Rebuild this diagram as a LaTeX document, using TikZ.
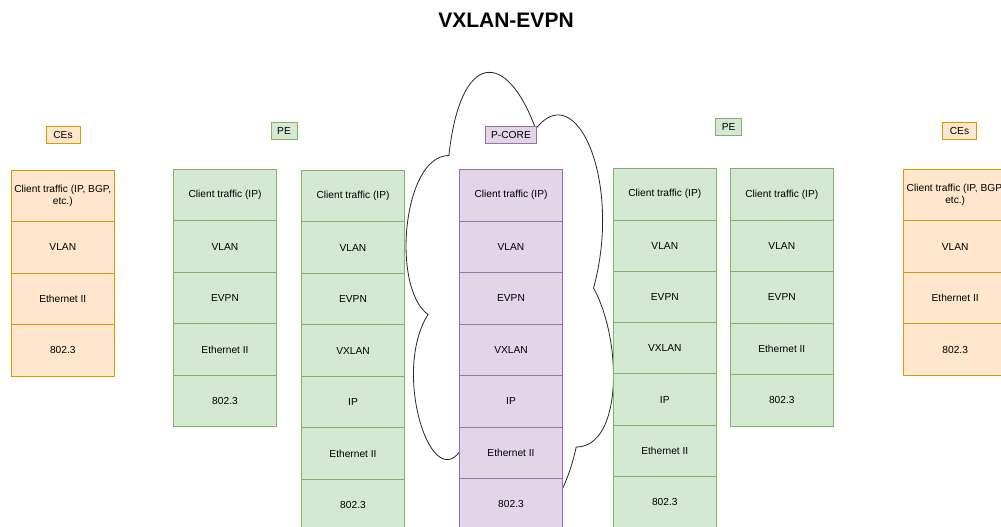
\documentclass[tikz,border=0pt]{standalone}
\usepackage{fontspec}
\setmainfont{Liberation Sans}
\begin{document}
\begin{tikzpicture}[x=1pt,y=-1pt,
  cellfont/.style={font=\fontsize{10.2}{12.4}\selectfont},
  cell/.style={draw, cellfont, minimum width=103pt, minimum height=51.5pt,
    inner sep=0pt, align=center, line width=0.8pt},
  ce/.style={cell, fill=ceFill, draw=ceLine},
  pe/.style={cell, fill=peFill, draw=peLine},
  core/.style={cell, fill=coreFill, draw=coreLine},
  tag/.style={draw, cellfont, inner sep=0pt, minimum height=17pt, line width=0.8pt},
  cetag/.style={tag, fill=ceFill, draw=ceLine},
  petag/.style={tag, fill=peFill, draw=peLine},
  coretag/.style={tag, fill=coreFill, draw=coreLine},
  cloudline/.style={draw=black!85, fill=white, line width=0.8pt}]

\definecolor{ceFill}{HTML}{FFE6CC}
\definecolor{ceLine}{HTML}{D79B00}
\definecolor{peFill}{HTML}{D5E8D4}
\definecolor{peLine}{HTML}{82B366}
\definecolor{coreFill}{HTML}{E1D5E7}
\definecolor{coreLine}{HTML}{9673A6}

\useasboundingbox (0,0) rectangle (1001,527);
\fill[white] (0,0) rectangle (1001,527);
\clip (0,0) rectangle (1001,527);

% title
\node[font=\bfseries\fontsize{21}{24}\selectfont] (title) at (506,20) {VXLAN-EVPN};

% provider core cloud
\begin{scope}[shift={(391pt,-23pt)}, x=231.5pt, y=-530pt]
  \path[cloudline] (0.25,0.25)
    .. controls (0.05,0.25) and (0,0.5) .. (0.16,0.55)
    .. controls (0,0.66) and (0.18,0.9) .. (0.31,0.8)
    .. controls (0.4,1) and (0.7,1) .. (0.8,0.8)
    .. controls (1,0.8) and (1,0.6) .. (0.875,0.5)
    .. controls (1,0.3) and (0.8,0.1) .. (0.625,0.2)
    .. controls (0.5,0.05) and (0.3,0.05) .. (0.25,0.25) -- cycle;
\end{scope}

% left customer edge
\foreach \t [count=\i] in {{Client traffic (IP, BGP,\\ etc.)}, VLAN, Ethernet II, 802.3}
  \node[ce] (ceL-\i) at (62.8, 170+51.5*\i-25.75) {\t};

% left provider edge, access side
\foreach \t [count=\i] in {Client traffic (IP), VLAN, EVPN, Ethernet II, 802.3}
  \node[pe] (peA-\i) at (225, 169.3+51.5*\i-25.75) {\t};

% left provider edge, core side
\foreach \t [count=\i] in {Client traffic (IP), VLAN, EVPN, VXLAN, IP, Ethernet II, 802.3}
  \node[pe] (peB-\i) at (353, 170.3+51.5*\i-25.75) {\t};

% provider core
\foreach \t [count=\i] in {Client traffic (IP), VLAN, EVPN, VXLAN, IP, Ethernet II, 802.3}
  \node[core] (core-\i) at (511, 169.5+51.5*\i-25.75) {\t};

% right provider edge, core side
\foreach \t [count=\i] in {Client traffic (IP), VLAN, EVPN, VXLAN, IP, Ethernet II, 802.3}
  \node[pe] (peC-\i) at (664.8, 168.7+51.3*\i-25.65) {\t};

% right provider edge, access side
\foreach \t [count=\i] in {Client traffic (IP), VLAN, EVPN, Ethernet II, 802.3}
  \node[pe] (peD-\i) at (781.8, 168.7+51.5*\i-25.75) {\t};

% right customer edge
\foreach \t [count=\i] in {{Client traffic (IP, BGP,\\ etc.)}, VLAN, Ethernet II, 802.3}
  \node[ce] (ceR-\i) at (955.2, 169.3+51.5*\i-25.75) {\t};

% tags
\node[cetag, minimum width=34pt] (ceLtag) at (63,135) {CEs};
\node[petag, minimum width=26pt] (peLtag) at (284,131) {PE};
\node[coretag, minimum width=51pt] (coretag) at (511,135.3) {P-CORE};
\node[petag, minimum width=26pt] (peRtag) at (728.7,127) {PE};
\node[cetag, minimum width=34pt] (ceRtag) at (959.5,131) {CEs};
\end{tikzpicture}
\end{document}
